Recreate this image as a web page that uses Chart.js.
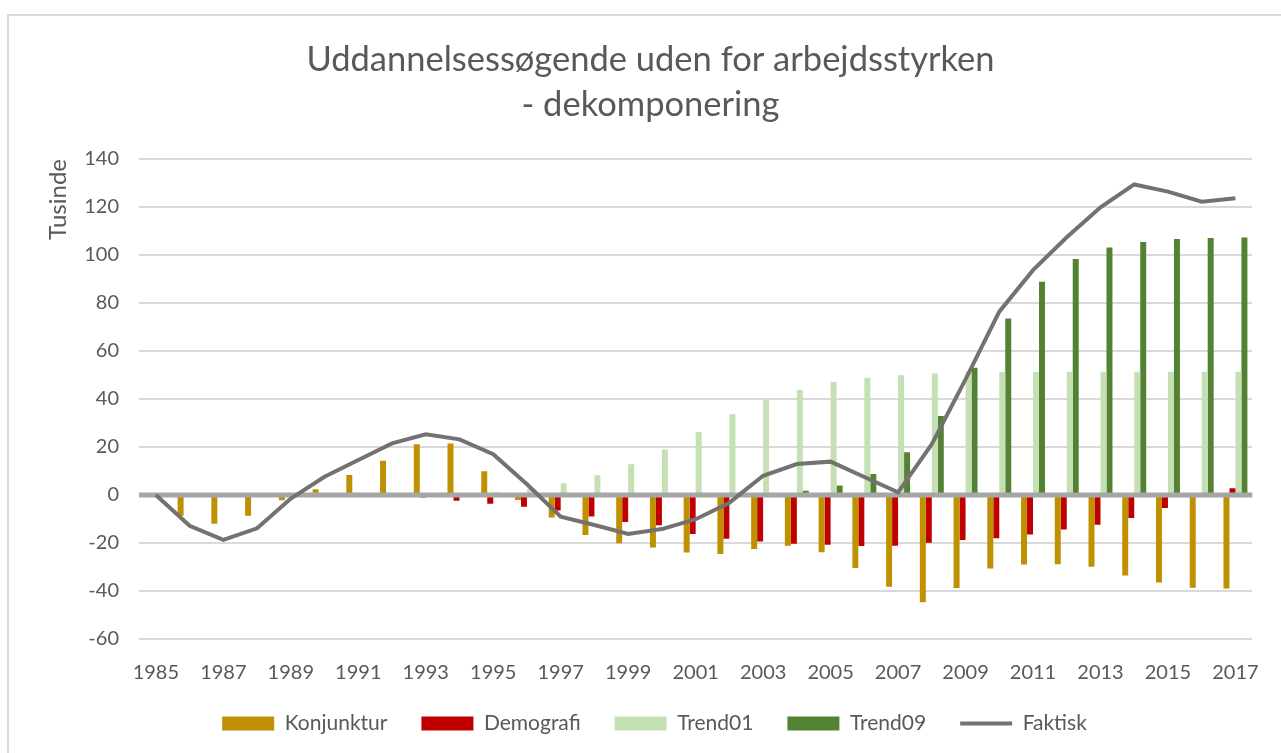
<!DOCTYPE html>
<html>
<head>
<meta charset="utf-8">
<script src="https://cdn.jsdelivr.net/npm/chart.js@4.4.0/dist/chart.umd.min.js"></script>
<style>
  html, body { margin: 0; padding: 0; background: #fff; overflow: hidden; }
  #wrap { position: relative; width: 1281px; height: 753px; }
  #frame { position: absolute; left: 7px; top: 14px; width: 1300px; height: 800px;
           border: 2px solid #d9d9d9; box-sizing: border-box; pointer-events: none; }
</style>
</head>
<body>
<div id="wrap">
  <canvas id="chart"></canvas>
  <div id="frame"></div>
</div>
<script>
// Data (thousands)
const years = [1985, 1986, 1987, 1988, 1989, 1990, 1991, 1992, 1993, 1994, 1995, 1996,
  1997, 1998, 1999, 2000, 2001, 2002, 2003, 2004, 2005, 2006, 2007, 2008, 2009, 2010,
  2011, 2012, 2013, 2014, 2015, 2016, 2017];

const konjunktur = [0, -8.6, -12, -8.6, -2.2, 2.4, 8.3, 14.3, 21.1, 21.5, 9.9, -2.1,
  -9.4, -16.7, -20.1, -21.9, -24, -24.6, -22.5, -21.1, -23.9, -30.4, -38.2, -44.7, -38.7, -30.6,
  -29, -28.9, -29.9, -33.5, -36.5, -38.6, -39];

const demografi = [0, 0, 0, 0, 0, 0, 0, 0, -1, -2.4, -3.6, -4.9,
  -6.5, -9, -11.3, -12.6, -16.3, -18.2, -19.4, -20.3, -20.7, -21.3, -21.1, -19.9, -18.8, -18,
  -16.5, -14.4, -12.4, -9.6, -5.4, -0.3, 2.8];

const trend01 = [0, 0, 0, 0, 0, 0, 0, 0, 0, 0, 1.2, 2.5,
  4.9, 8.2, 12.8, 19, 26.3, 33.6, 39.6, 43.9, 47.1, 48.9, 49.9, 50.6, 51.4, 51.3,
  51.3, 51.4, 51.4, 51.4, 51.4, 51.4, 51.4];

const trend09 = [0, 0, 0, 0, 0, 0, 0, 0, 0, 0, 0, 0,
  0, 0, 0, 0, 0, 0, 0, 1.8, 4, 8.8, 17.8, 32.9, 53, 73.5,
  88.9, 98.3, 103.1, 105.4, 106.7, 107.1, 107.3];

const faktisk = [0, -12.8, -18.7, -13.9, -1.5, 7.6, 14.6, 21.5, 25.3, 23.2, 17, 4.5,
  -9, -12.5, -16.2, -14.2, -10.1, -3.2, 8, 12.9, 13.9, 7.5, 1.1, 21.2, 48.2, 76.4,
  93.7, 107.4, 119.9, 129.4, 126.4, 122.2, 123.6];

const FONT = 'Lato';
const TEXT = '#595959';

// thick grey zero axis, drawn over the bars but under the Faktisk line
const zeroLine = {
  id: 'zeroLine',
  beforeDatasetDraw(chart, args) {
    if (args.index !== 4) return;
    const y = chart.scales.y.getPixelForValue(0);
    const { left, right } = chart.chartArea;
    const ctx = chart.ctx;
    ctx.save();
    ctx.strokeStyle = '#a6a6a6';
    ctx.lineWidth = 5;
    ctx.beginPath();
    ctx.moveTo(left, y);
    ctx.lineTo(right, y);
    ctx.stroke();
    ctx.restore();
  }
};

// title and legend sit a bit right of the canvas centre in the original
const boxShift = {
  id: 'boxShift',
  afterLayout(chart) {
    chart.legend.left += 26;
    chart.legend.right += 26;
    chart.titleBlock.left += 22;
    chart.titleBlock.right += 22;
  }
};

function bar(label, data, color) {
  return {
    type: 'bar',
    label: label,
    data: data,
    backgroundColor: color,
    borderWidth: 0,
    pointStyle: 'rect',
    order: 1,
    categoryPercentage: 0.71,
    barPercentage: 1.0
  };
}

const ctx = document.getElementById('chart').getContext('2d');
const chart = new Chart(ctx, {
  data: {
    labels: years,
    datasets: [
      bar('Konjunktur', konjunktur, '#bf9000'),
      bar('Demografi', demografi, '#c00000'),
      bar('Trend01', trend01, '#c5e0b4'),
      bar('Trend09', trend09, '#548235'),
      {
        type: 'line',
        label: 'Faktisk',
        data: faktisk,
        borderColor: '#767171',
        backgroundColor: '#767171',
        borderWidth: 4,
        pointRadius: 0,
        pointStyle: 'line',
        tension: 0,
        order: 0
      }
    ]
  },
  options: {
    responsive: true,
    maintainAspectRatio: false,
    animation: false,
    layout: { padding: { left: 0, right: 24, top: 0, bottom: 9 } },
    plugins: {
      title: {
        display: true,
        text: ['Uddannelsessøgende uden for arbejdsstyrken', '- dekomponering'],
        color: TEXT,
        font: { family: FONT, size: 34.5, weight: 'normal', lineHeight: 1.3 },
        padding: { top: 37.6, bottom: 31.7 }
      },
      legend: {
        position: 'bottom',
        labels: {
          usePointStyle: true,
          pointStyleWidth: 52,
          boxHeight: 14,
          padding: 34,
          color: TEXT,
          font: { family: FONT, size: 21 },
          sort: (a, b) => a.datasetIndex - b.datasetIndex
        }
      },
      tooltip: { enabled: false }
    },
    scales: {
      x: {
        grid: { display: false, drawTicks: false },
        border: { display: false },
        ticks: {
          autoSkip: false,
          maxRotation: 0,
          padding: 22,
          color: TEXT,
          font: { family: FONT, size: 20 },
          callback: (v, i) => (i % 2 === 0 ? years[i] : '')
        },
        afterFit: (s) => { s.height = 40; }
      },
      y: {
        min: -60,
        max: 140,
        ticks: { stepSize: 20, padding: 20, color: TEXT, font: { family: FONT, size: 20 } },
        grid: {
          drawTicks: false,
          lineWidth: 2,
          color: (c) => (c.tick && c.tick.value === 0 ? 'rgba(0,0,0,0)' : '#d9d9d9')
        },
        border: { display: false },
        title: {
          display: true,
          text: 'Tusinde',
          align: 'end',
          color: TEXT,
          font: { family: FONT, size: 24, lineHeight: 1.2 },
          padding: { top: 44, bottom: 0 }
        },
        afterFit: (s) => { s.width = 139; }
      }
    }
  },
  plugins: [zeroLine, boxShift]
});
</script>
</body>
</html>
